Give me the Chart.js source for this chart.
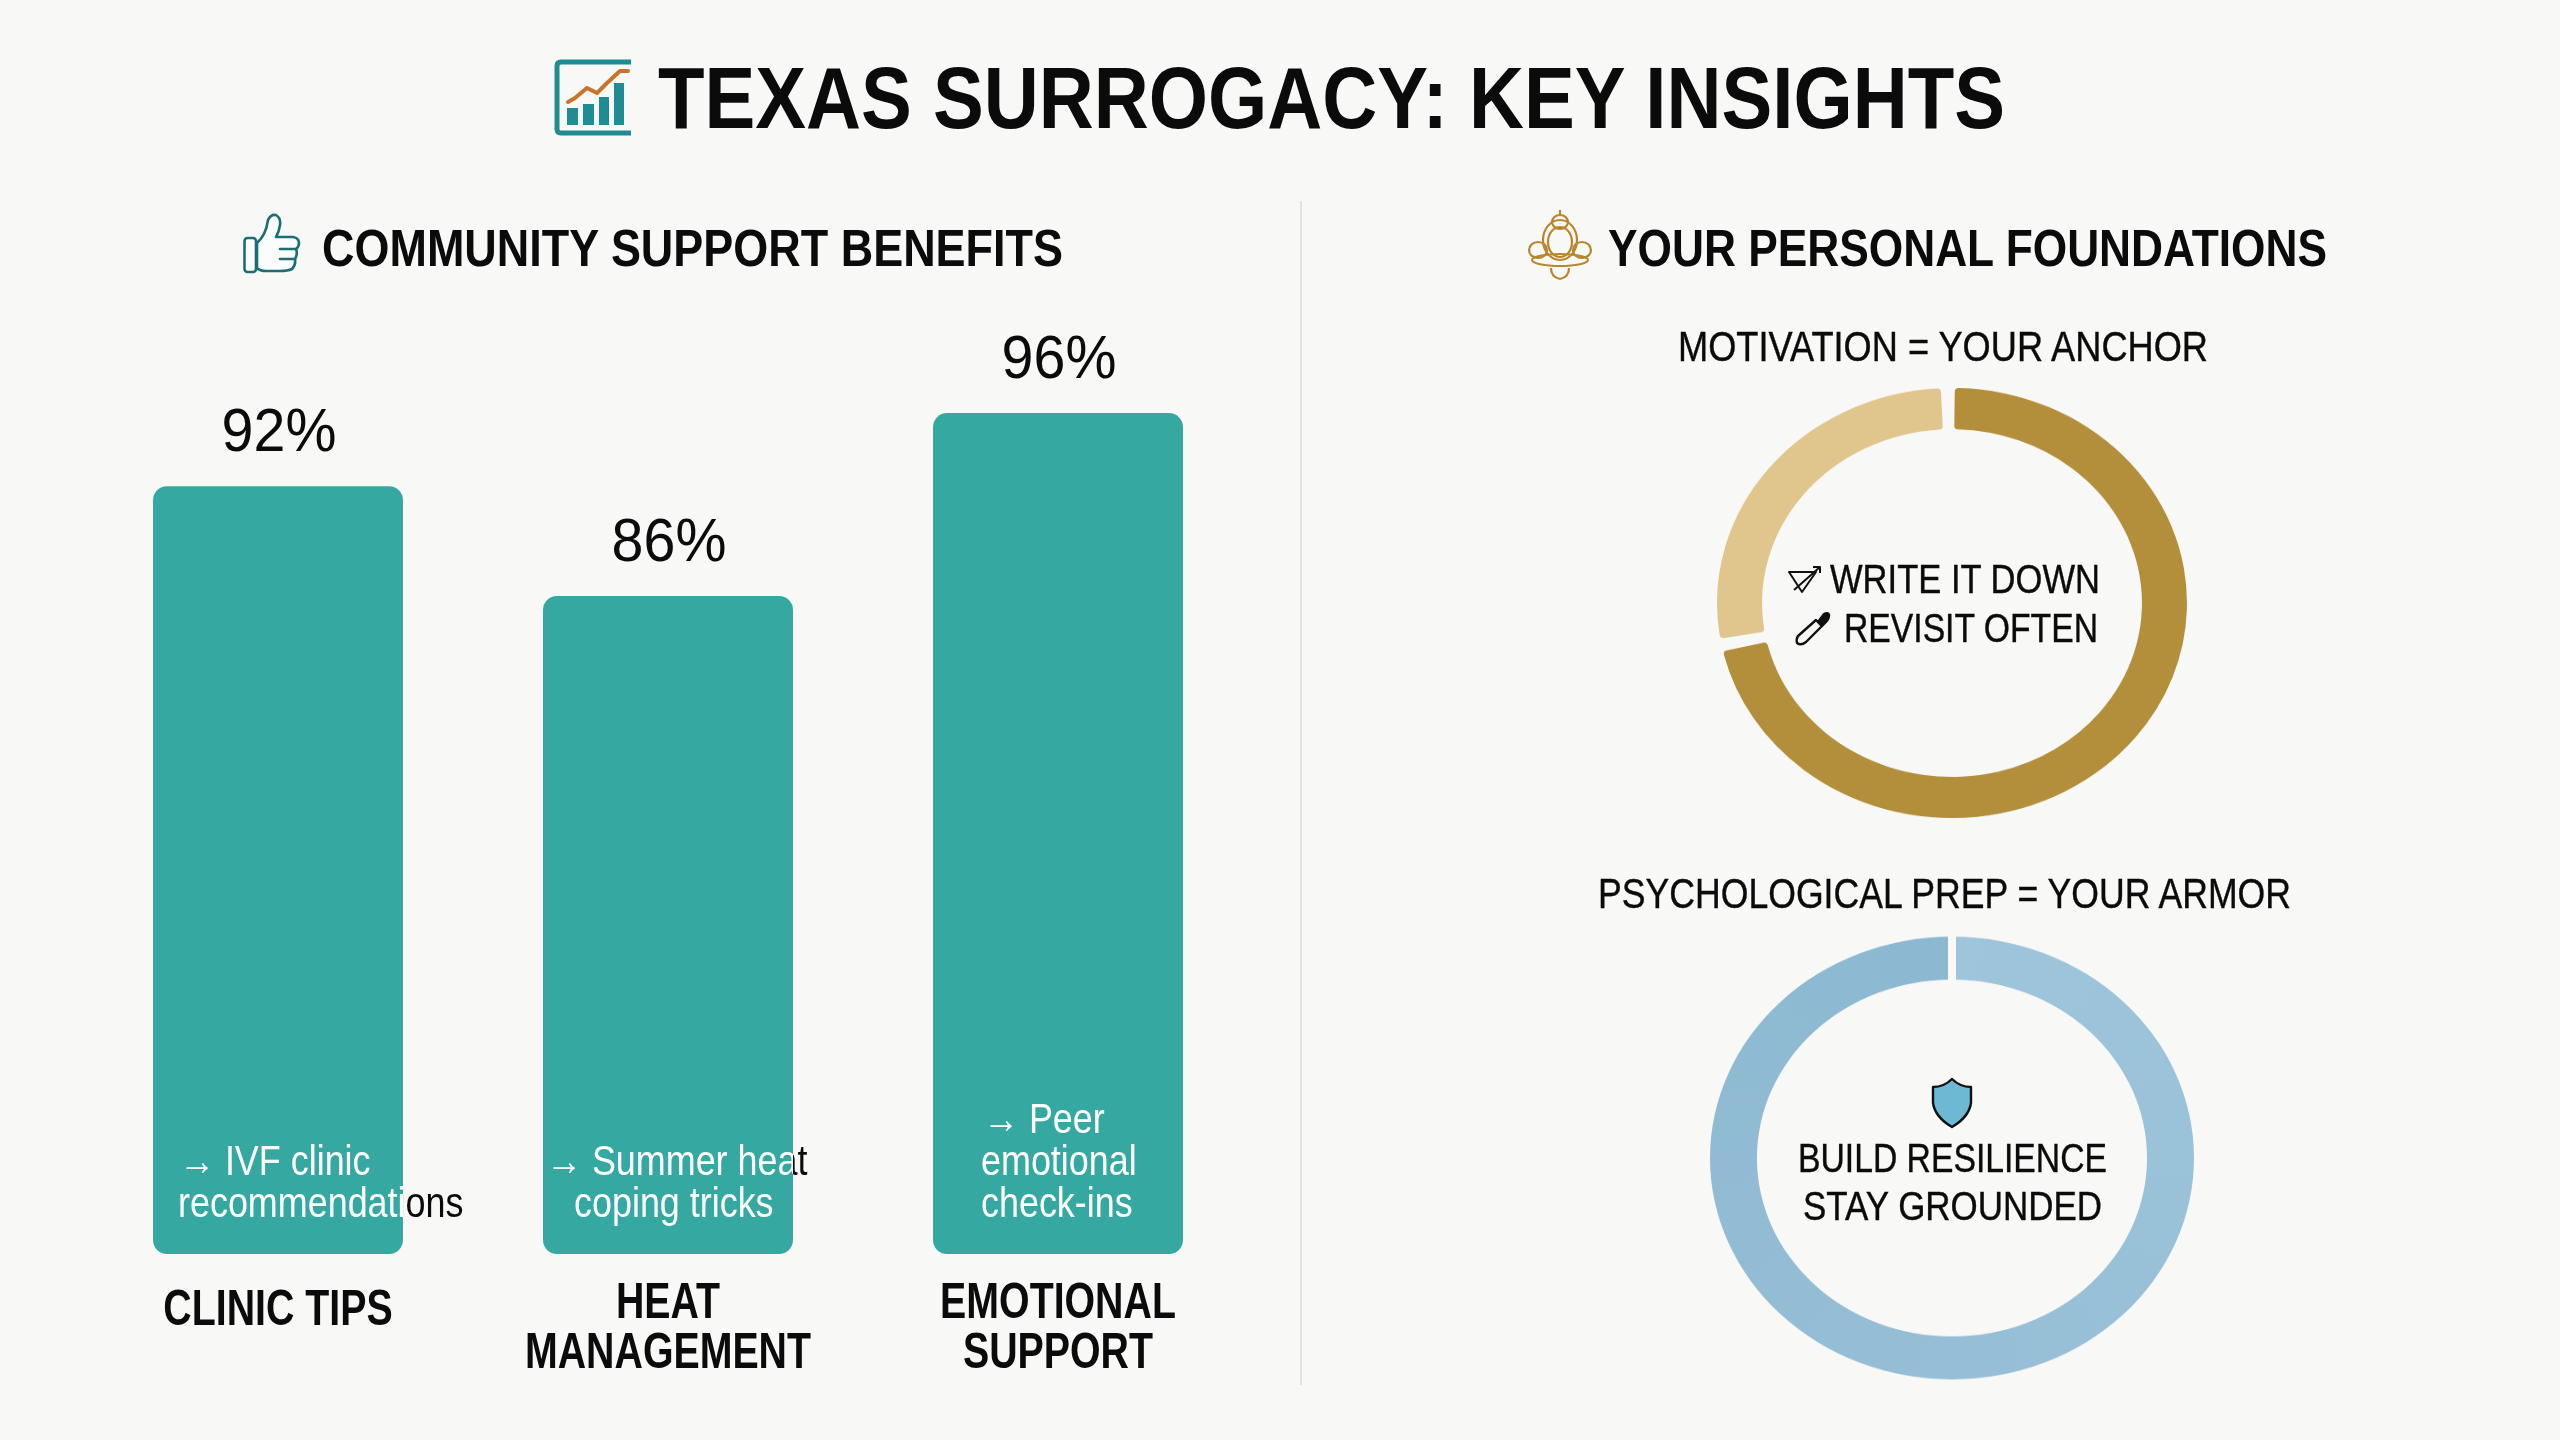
<!DOCTYPE html>
<html lang="en">
<head>
<meta charset="utf-8">
<title>Texas Surrogacy: Key Insights</title>
<script src="https://cdn.jsdelivr.net/npm/chart.js@4/dist/chart.umd.min.js"></script>
<style>
  html,body{margin:0;padding:0;background:#F8F8F6;width:2560px;height:1440px;overflow:hidden}
  .layer{position:absolute;left:0;top:0}
  #ringGold{position:absolute;left:1711.5px;top:363px;transform:scaleY(.915)}
  #ringBlue{position:absolute;left:1702px;top:907.5px;transform:scaleY(.915)}
  svg{position:absolute;left:0;top:0;pointer-events:none}
  text{font-family:"Liberation Sans",Arial,sans-serif;fill:#0b0b0b}
  .soft{stroke:#0b0b0b;stroke-width:.4}
</style>
</head>
<body>
<canvas id="bars" class="layer" width="1300" height="1440"></canvas>
<canvas id="ringGold" width="480" height="480"></canvas>
<canvas id="ringBlue" width="500" height="500"></canvas>
<svg width="2560" height="1440" viewBox="0 0 2560 1440" xmlns="http://www.w3.org/2000/svg">
  <line x1="1301" y1="201" x2="1301" y2="1385" stroke="#E3E3E0" stroke-width="2"/>

  <text x="658" y="128" font-size="88" font-weight="700" textLength="1347" lengthAdjust="spacingAndGlyphs">TEXAS SURROGACY: KEY INSIGHTS</text>
  <text x="322" y="266" font-size="52" font-weight="700" textLength="741" lengthAdjust="spacingAndGlyphs">COMMUNITY SUPPORT BENEFITS</text>
  <text x="1608" y="266" font-size="52" font-weight="700" textLength="719" lengthAdjust="spacingAndGlyphs">YOUR PERSONAL FOUNDATIONS</text>
  <text class="soft" x="1678" y="361" font-size="42" textLength="530" lengthAdjust="spacingAndGlyphs">MOTIVATION = YOUR ANCHOR</text>
  <text class="soft" x="1598" y="908" font-size="42" textLength="693" lengthAdjust="spacingAndGlyphs">PSYCHOLOGICAL PREP = YOUR ARMOR</text>
  <text class="soft" x="1830" y="593" font-size="41" textLength="270" lengthAdjust="spacingAndGlyphs">WRITE IT DOWN</text>
  <text class="soft" x="1844" y="642" font-size="41" textLength="254" lengthAdjust="spacingAndGlyphs">REVISIT OFTEN</text>
  <text class="soft" x="1798" y="1172" font-size="41" textLength="309" lengthAdjust="spacingAndGlyphs">BUILD RESILIENCE</text>
  <text class="soft" x="1803" y="1220" font-size="41" textLength="299" lengthAdjust="spacingAndGlyphs">STAY GROUNDED</text>

  <!-- title icon -->
  <path d="M631 62H561Q557 62 557 66V129Q557 133 561 133H631" fill="none" stroke="#1E8C92" stroke-width="5"/>
  <g fill="#1E8C92">
    <rect x="567" y="108" width="11" height="17"/><rect x="583" y="104" width="11" height="21"/>
    <rect x="599" y="97" width="10" height="28"/><rect x="614" y="83" width="10" height="42"/>
  </g>
  <path d="M568 102L575 98L587 88L597 93L607 83L620 71L628 71" fill="none" stroke="#C8742A" stroke-width="4" stroke-linejoin="round" stroke-linecap="round"/>

  <!-- thumb -->
  <g fill="#FBFCFC" stroke="#1C6E75" stroke-width="2.6" stroke-linejoin="round" stroke-linecap="round">
    <rect x="244.500" y="238" width="11.500" height="34" rx="3"/>
    <path d="M257 243Q266 235 268 220Q271 214 276 215Q281 218 280 225Q279 232 276 237H293Q299 238 299 243Q299 247 296 249Q298 254 295 259Q296 265 292 269Q288 271 280 271H266Q260 271 257 268Z"/>
    <path d="M280 249H296M280 259H295" fill="none"/>
  </g>

  <!-- lotus -->
  <g fill="none" stroke="#B8862B" stroke-width="2.2">
    <path d="M1560 210V215"/>
    <ellipse cx="1560" cy="222" rx="8" ry="7"/>
    <ellipse cx="1560" cy="242" rx="12" ry="15"/>
    <ellipse cx="1560" cy="240" rx="17" ry="20"/>
    <ellipse cx="1538" cy="250" rx="9" ry="8"/>
    <ellipse cx="1582" cy="250" rx="9" ry="8"/>
    <ellipse cx="1560" cy="260" rx="28" ry="6"/>
    <path d="M1551 268Q1551 277 1560 279Q1569 277 1569 268"/>
  </g>

  <!-- write-it-down glyph -->
  <g fill="none" stroke="#111" stroke-width="2" stroke-linejoin="round">
    <path d="M1789 572H1816L1802 592Z"/><path d="M1794 590L1820 567M1813 567H1820V573"/>
  </g>
  <!-- pen -->
  <g fill="none" stroke="#111" stroke-width="2.400" stroke-linejoin="round">
    <path d="M1797 643Q1796 639 1798 636L1816 620L1822 626L1806 642Q1801 646 1797 643Z"/>
    <path d="M1818 622L1824 614Q1828 612 1829 615Q1829 619 1826 622L1822 626Z" fill="#111"/>
  </g>
  <!-- shield -->
  <path d="M1952 1079Q1944 1087 1933 1087V1103Q1935 1117 1952 1127Q1969 1117 1971 1103V1087Q1960 1087 1952 1079Z" fill="#6DB9D3" stroke="#111" stroke-width="2.400" stroke-linejoin="round"/>
</svg>

<script>
/* ---------- data ---------- */
const barCategories = [['CLINIC TIPS'], ['HEAT', 'MANAGEMENT'], ['EMOTIONAL', 'SUPPORT']];
const barValues = [92, 86, 96];
const barFloor = 50;
const barCeiling = 100;
const barNotes = [
  ['\u2192 IVF clinic', 'recommendations'],
  ['\u2192 Summer heat', 'coping tricks'],
  ['\u2192 Peer', 'emotional', 'check-ins']
];
const motivationLabels = ['Anchor', 'Remainder'];
const motivationValues = [72.6, 27.4];
const armorLabels = ['Resilience', 'Grounding'];
const armorValues = [50, 50];

/* ---------- layout and style (not data) ---------- */
const noteInsets = [[26, 25], [3, 31], [50, 48, 48]];
const TEAL = '#36A8A2', INK = '#0b0b0b', PAGE = '#F8F8F6';
const regular = '"Liberation Sans",Arial,sans-serif';
const TICK_SQUEEZE = 0.786, NOTE_SQUEEZE = 0.855, VALUE_SQUEEZE = 0.94;

Chart.defaults.animation = false;
Chart.defaults.responsive = false;
Chart.defaults.devicePixelRatio = 1;

const barDecor = {
  id: 'barDecor',
  install(chart) {
    /* the reference's lettering is horizontally condensed: tick labels are drawn by
       the library, so give them a maximum width through fillText's own argument */
    const ctx = chart.ctx;
    const raw = ctx.fillText;
    ctx.fillText = function (t, x, y, mw) {
      return raw.call(this, t, x, y, mw === undefined ? this.measureText(t).width * TICK_SQUEEZE : mw);
    };
  },
  afterUpdate(chart) {
    const items = chart.scales.x.getLabelItems();
    if (items[0]) items[0].options.translation[1] += 7;
  },
  afterDatasetsDraw(chart) {
    const { ctx } = chart;
    const bars = chart.getDatasetMeta(0).data;
    bars.forEach((bar, i) => {
      ctx.save();
      ctx.font = '61px ' + regular;
      ctx.fillStyle = INK;
      ctx.textAlign = 'center';
      ctx.textBaseline = 'alphabetic';
      const label = barValues[i] + '%';
      ctx.fillText(label, bar.x + 1, bar.y - 35, ctx.measureText(label).width * VALUE_SQUEEZE);
      ctx.restore();

      const left = bar.x - bar.width / 2;
      const lines = barNotes[i];
      const drawLines = () => lines.forEach((line, k) => {
        const y = bar.base - 37 - (lines.length - 1 - k) * 42;
        ctx.fillText(line, left + noteInsets[i][k], y, ctx.measureText(line).width * NOTE_SQUEEZE);
      });
      ctx.save();
      ctx.font = '42px ' + regular;
      ctx.textAlign = 'left';
      ctx.textBaseline = 'alphabetic';
      ctx.save();
      ctx.beginPath();
      ctx.rect(0, 0, chart.width, chart.height);
      ctx.rect(left, bar.y, bar.width, bar.base - bar.y);
      ctx.clip('evenodd');
      ctx.fillStyle = INK;
      drawLines();
      ctx.restore();
      ctx.save();
      ctx.beginPath();
      ctx.rect(left, bar.y, bar.width, bar.base - bar.y);
      ctx.clip();
      ctx.fillStyle = '#FFFFFF';
      drawLines();
      ctx.restore();
      ctx.restore();
    });
  }
};

new Chart(document.getElementById('bars'), {
  type: 'bar',
  data: {
    labels: barCategories,
    datasets: [{
      data: barValues,
      base: barFloor,
      backgroundColor: TEAL,
      borderRadius: 14,
      borderSkipped: false,
      barPercentage: 0.641,
      categoryPercentage: 1,
      clip: false
    }]
  },
  options: {
    layout: { padding: { left: 83, right: 47, top: 340, bottom: 56 } },
    plugins: { legend: { display: false }, tooltip: { enabled: false } },
    scales: {
      x: {
        grid: { display: false },
        border: { display: false },
        afterFit(scale) { scale.height = 130; },
        ticks: {
          padding: 17,
          color: INK,
          maxRotation: 0,
          autoSkip: false,
          font: { family: regular, size: 50, weight: '700', lineHeight: 1 }
        }
      },
      y: { display: false, min: barFloor, max: barCeiling }
    }
  },
  plugins: [barDecor]
});

new Chart(document.getElementById('ringGold'), {
  type: 'doughnut',
  data: {
    labels: motivationLabels,
    datasets: [{
      data: motivationValues,
      backgroundColor: ['#B38F3C', '#E0C68C'],
      borderWidth: 0,
      spacing: 8,
      borderRadius: 4,
      radius: 231,
      cutout: '80.5%',
      rotation: -1.8,
      hoverOffset: 0
    }]
  },
  options: { plugins: { legend: { display: false }, tooltip: { enabled: false } } }
});

const topGap = {
  id: 'topGap',
  afterDatasetsDraw(chart) {
    const arc = chart.getDatasetMeta(0).data[0];
    const { ctx } = chart;
    ctx.save();
    ctx.strokeStyle = PAGE;
    ctx.lineWidth = 8;
    ctx.beginPath();
    const a = arc.startAngle;
    ctx.moveTo(arc.x + Math.cos(a) * (arc.innerRadius - 2), arc.y + Math.sin(a) * (arc.innerRadius - 2));
    ctx.lineTo(arc.x + Math.cos(a) * (arc.outerRadius + 2), arc.y + Math.sin(a) * (arc.outerRadius + 2));
    ctx.stroke();
    ctx.restore();
  }
};

function blueSweep(context) {
  const c = context.chart;
  const g = c.ctx.createConicGradient(-Math.PI / 2, c.width / 2, c.height / 2);
  g.addColorStop(0, '#9EC5DB');
  g.addColorStop(0.5, '#96BFD7');
  g.addColorStop(1, '#8CB8D1');
  return g;
}

new Chart(document.getElementById('ringBlue'), {
  type: 'doughnut',
  data: {
    labels: armorLabels,
    datasets: [{
      data: armorValues,
      backgroundColor: blueSweep,
      borderWidth: 0,
      radius: 242,
      cutout: '80.6%',
      hoverOffset: 0
    }]
  },
  options: { plugins: { legend: { display: false }, tooltip: { enabled: false } } },
  plugins: [topGap]
});
</script>
</body>
</html>
